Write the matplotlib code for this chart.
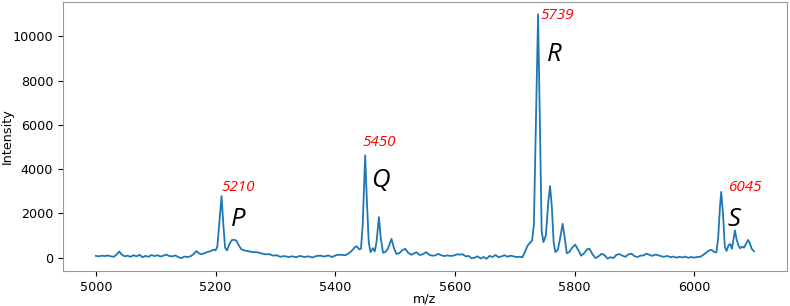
import numpy as np
import matplotlib
matplotlib.use('Agg')
import matplotlib.pyplot as plt

# spectrum
mz = [5000, 5005, 5010, 5015, 5020, 5025, 5030, 5035, 5039, 5043, 5048, 5053, 5058, 5063, 5068,
      5073, 5078, 5083, 5088, 5093, 5098, 5103, 5108, 5113, 5118, 5123, 5128, 5133, 5138, 5143,
      5148, 5153, 5158, 5163, 5168, 5172, 5177, 5182, 5187, 5192, 5196, 5200, 5203, 5206, 5210,
      5213, 5216, 5219, 5223, 5227, 5231, 5235, 5239, 5243, 5248, 5255, 5262, 5270, 5277, 5283,
      5290, 5296, 5302, 5308, 5315, 5322, 5328, 5335, 5341, 5348, 5355, 5362, 5368, 5375, 5382,
      5388, 5395, 5402, 5410, 5417, 5423, 5428, 5433, 5436, 5440, 5443, 5446, 5450, 5453, 5456,
      5459, 5463, 5466, 5469, 5473, 5476, 5480, 5484, 5488, 5494, 5498, 5502, 5507, 5512, 5517,
      5522, 5527, 5532, 5536, 5541, 5546, 5552, 5557, 5562, 5567, 5572, 5577, 5582, 5587, 5592,
      5598, 5603, 5608, 5613, 5618, 5623, 5628, 5633, 5638, 5643, 5648, 5653, 5658, 5663, 5668,
      5673, 5678, 5683, 5688, 5693, 5698, 5703, 5708, 5713, 5717, 5721, 5725, 5729, 5732, 5736,
      5739, 5742, 5745, 5748, 5752, 5756, 5759, 5762, 5765, 5768, 5772, 5776, 5780, 5783, 5787,
      5791, 5796, 5801, 5806, 5811, 5816, 5821, 5825, 5830, 5835, 5840, 5845, 5850, 5855, 5860,
      5865, 5870, 5875, 5880, 5885, 5890, 5895, 5900, 5905, 5910, 5915, 5920, 5925, 5930, 5935,
      5940, 5945, 5950, 5955, 5960, 5965, 5970, 5975, 5980, 5985, 5990, 5995, 6000, 6005, 6010,
      6015, 6020, 6025, 6029, 6033, 6037, 6040, 6043, 6045, 6048, 6051, 6054, 6057, 6060, 6063,
      6066, 6068, 6071, 6074, 6077, 6080, 6083, 6086, 6090, 6093, 6096, 6100]
intensity = [80, 60, 90, 70, 100, 60, 40, 150, 280, 150, 60, 90, 40, 110, 60,
             130, 20, 80, 40, 120, 70, 110, 50, 90, 140, 70, 60, 100, 20, -20,
             50, 30, 60, 150, 300, 200, 150, 210, 260, 290, 360, 330, 500, 1500, 2780,
             1500, 450, 330, 600, 790, 810, 760, 550, 380, 330, 290, 250, 240, 190, 150,
             160, 90, 110, 40, 70, 30, 60, 20, 80, 30, 60, 10, 70, 90, 50,
             100, 30, 120, 130, 110, 200, 320, 480, 510, 380, 400, 1500, 4620, 2500, 700,
             250, 430, 280, 700, 1830, 900, 220, 260, 400, 850, 450, 170, 200, 330, 400,
             220, 130, 200, 240, 120, 150, 250, 130, 90, 100, 170, 110, 70, 100, 80,
             90, 150, 140, 150, 60, 80, -30, 0, 60, -40, 30, -50, 80, 30, 120,
             20, 60, 110, 40, 90, 60, 30, 40, 20, 250, 520, 660, 770, 1500, 7000,
             11000, 6000, 1200, 700, 1000, 2500, 3240, 2300, 700, 250, 350, 900, 1530, 1000, 200,
             250, 450, 590, 350, 90, 200, 380, 400, 150, -20, 60, 170, 120, -40, 20,
             -20, 130, 160, 90, 40, 150, 180, 70, 30, 90, 100, 180, 130, 80, 140,
             110, 60, 40, 80, 20, 50, 0, 40, 10, 50, -10, 30, 0, 30, 40,
             120, 230, 330, 350, 260, 240, 900, 2300, 2970, 2000, 500, 300, 550, 620, 400,
             900, 1230, 800, 550, 420, 500, 450, 600, 800, 650, 400, 290]

# peak labels
peak_text = ['5210', '5450', '5739', '6045']
peak_pos = [(5210, 3000), (5446, 5045), (5743, 10770), (6057, 3010)]
letters = ['P', 'Q', 'R', 'S']
letter_pos = [(5225, 1450), (5460, 3180), (5754, 8900), (6056, 1450)]

fig = plt.figure(figsize=(7.9, 3.06), dpi=100)
ax = fig.add_axes([0.0797, 0.1144, 0.9165, 0.8791])
ax.plot(mz, intensity, color='#1f77b4', lw=1.3)

for s, (x, y) in zip(peak_text, peak_pos):
    ax.text(x, y, s, color='red', fontsize=11, style='italic', family='Open Sans',
            ha='left', va='baseline')
for s, (x, y) in zip(letters, letter_pos):
    ax.text(x, y, s, color='black', fontsize=18.5, style='italic', family='Open Sans',
            ha='left', va='baseline')

ax.set_xlabel('m/z', fontsize=9.2)
ax.set_ylabel('Intensity', fontsize=9.2)
ax.xaxis.set_label_coords(0.5, -0.08)
ax.yaxis.set_label_coords(-0.068, 0.5)
ax.tick_params(labelsize=9.2)
for sp in ax.spines.values():
    sp.set_color('0.6')

fig.savefig('out.png', dpi=100)
